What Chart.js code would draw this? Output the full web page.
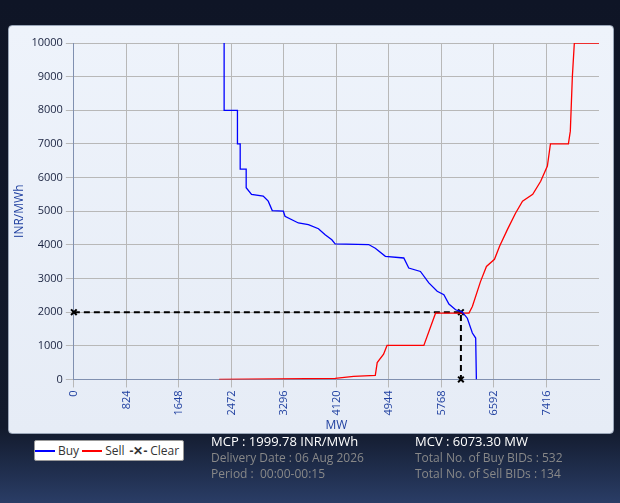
<!DOCTYPE html>
<html><head><meta charset="utf-8">
<script src="https://cdn.jsdelivr.net/npm/chart.js@4"></script>
<style>
body{margin:0;width:620px;height:503px;background:linear-gradient(#0f1526 0%,#121a2c 85%,#2a3d66 100%);font-family:"Open Sans",sans-serif;overflow:hidden;position:relative}
#panel{position:absolute;left:8px;top:25px;width:604px;height:407px;background:linear-gradient(#eef3fb,#e6ecf6);border:1px solid #9aa6b8;border-radius:4px}
#legend{position:absolute;left:34px;top:440px;width:148px;height:19px;background:#fff;border:1px solid #999;border-radius:2px;font-size:12px;color:#333;display:flex;align-items:center;gap:3px}
.sw{display:inline-block;width:20px;height:2px;vertical-align:middle}
.t{position:absolute;font-size:12px;color:#888;line-height:16px}
.w{color:#fff;font-size:13px}
</style></head><body>
<div id="panel"><canvas id="c" width="604" height="407"></canvas></div>
<div id="legend"><span class="sw" style="background:#00f"></span>Buy<span class="sw" style="background:#f00"></span>Sell<span style="font-weight:bold;margin-left:2px">-✕-</span>Clear</div>
<div class="t" style="left:211px;top:433px"><span class="w">MCP : 1999.78 INR/MWh</span><br>Delivery Date : 06 Aug 2026<br>Period :&nbsp; 00:00-00:15</div>
<div class="t" style="left:415px;top:433px"><span class="w">MCV : 6073.30 MW</span><br>Total No. of Buy BIDs : 532<br>Total No. of Sell BIDs : 134</div>
<script>
const buyMW=[2358,2358,2358,2567,2567,2610,2610,2704,2704,2788,2971,3050,3113,3287,3313,3523,3680,3838,3943,4048,4100,4625,4730,4888,5177,5255,5438,5570,5701,5806,5885,5990,6095,6174,6253,6305,6316];
const buyPrice=[10000,9000,8000,8000,7000,7000,6250,6250,5700,5500,5450,5300,5020,5000,4850,4650,4600,4480,4300,4150,4030,4010,3900,3660,3610,3310,3210,2870,2620,2520,2240,2070,2000,1820,1380,1230,0];
const sellMW=[2280,4100,4390,4730,4760,4860,4914,5492,5675,6200,6253,6379,6474,6600,6680,6804,6930,7040,7200,7325,7430,7478,7760,7790,7822,7853,8240];
const sellPrice=[0,30,90,120,500,750,1010,1010,1970,1970,2170,2900,3360,3570,3960,4460,4940,5300,5500,5890,6340,7000,7000,7380,9000,10000,10000];
const clearMW=[0,6073.3,6073.3];
const clearPrice=[1999.78,1999.78,0];
const xTicks=[0,824,1648,2472,3296,4120,4944,5768,6592,7416];
const pts=(a,b)=>a.map((x,i)=>({x,y:b[i]}));
const blue='#2040a0';
new Chart(document.getElementById('c'),{type:'scatter',
data:{datasets:[
{data:pts(buyMW,buyPrice),showLine:true,borderColor:'#0000ff',borderWidth:1.3,pointRadius:0,tension:0},
{data:pts(sellMW,sellPrice),showLine:true,borderColor:'#ff0000',borderWidth:1.3,pointRadius:0,tension:0},
{data:pts(clearMW,clearPrice),showLine:true,clip:false,borderColor:'#000',borderWidth:2,borderDash:[6,4],pointStyle:'crossRot',pointRadius:4,pointBorderWidth:2,pointBorderColor:'#000'}]},
options:{responsive:false,animation:false,
layout:{padding:{top:17,right:14,left:1,bottom:0}},
plugins:{legend:{display:false},tooltip:{enabled:false}},
scales:{
x:{type:'linear',min:0,max:8240,afterBuildTicks:s=>{s.ticks=xTicks.map(v=>({value:v}));},
 grid:{color:'#b8b8b8',lineWidth:1},border:{color:'#8090b0'},
 ticks:{color:blue,minRotation:90,maxRotation:90,autoSkip:false,callback:v=>String(v),font:{family:'Open Sans',size:11}},
 title:{display:true,text:'MW',color:blue,font:{family:'Open Sans',size:12},padding:0}},
y:{min:0,max:10000,ticks:{stepSize:1000,autoSkip:false,color:'#1a2340',callback:v=>String(v),font:{family:'Open Sans',size:11}},
 grid:{color:'#b8b8b8',lineWidth:1},border:{color:'#8090b0'},
 title:{display:true,text:'INR/MWh',color:blue,font:{family:'Open Sans',size:12},padding:2}}}}});
</script>
</body></html>
